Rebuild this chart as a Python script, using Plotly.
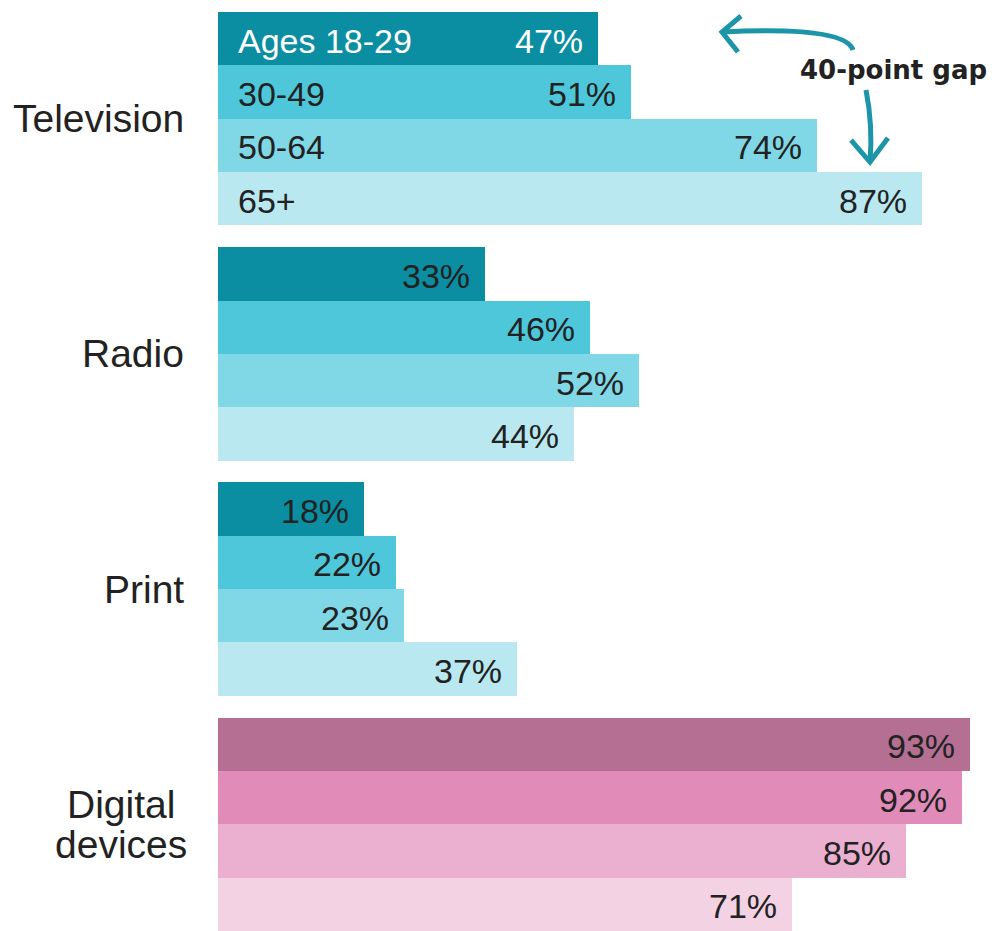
import plotly.graph_objects as go

# data
media = ["Television", "Radio", "Print", "Digital devices"]
ages = ["Ages 18-29", "30-49", "50-64", "65+"]
television = [47, 51, 74, 87]
radio = [33, 46, 52, 44]
print_ = [18, 22, 23, 37]
digital = [93, 92, 85, 71]
values = [television, radio, print_, digital]

TEAL = ["#0B8EA2", "#4EC7DA", "#80D7E6", "#B9E8F0"]
PINK = ["#B46F93", "#E08BB8", "#EBB0D0", "#F3D2E4"]
ARROW = "#1C95A8"
TXT = "#222222"
FONT = "Liberation Sans"

GAP = 0.41  # space between groups, in bar heights
X_PX = 8.09  # pixels per percentage point
BODY = 8  # page margin the browser puts round the plot div
LEFT = 218
TOP = 12
BAR_PX = 53.3

fig = go.Figure()
ys_all = []
for g, vals in enumerate(values):
    ys = [g * (4 + GAP) + j for j in range(4)]
    ys_all.append(ys)
    colors = PINK if g == 3 else TEAL
    fig.add_trace(go.Bar(
        x=vals, y=ys, orientation="h", width=1.0,
        marker=dict(color=colors, line=dict(width=0)),
        hoverinfo="skip", showlegend=False,
    ))

annotations = []
for g, (vals, ys) in enumerate(zip(values, ys_all)):
    for j, (v, y) in enumerate(zip(vals, ys)):
        white = g == 0 and j == 0
        annotations.append(dict(
            x=v, y=y, text=f"{v}%", showarrow=False, xanchor="right",
            xshift=-13, yshift=-2,
            font=dict(family=FONT, size=34, color="white" if white else TXT),
        ))
    # group label
    mid = (ys[0] + ys[-1]) / 2
    words = media[g].split(" ")
    if len(words) == 1:
        annotations.append(dict(
            x=0, y=mid, text=media[g], showarrow=False, xanchor="right",
            xshift=-32, font=dict(family=FONT, size=39, color=TXT),
        ))
    else:
        for k, w in enumerate(words):
            annotations.append(dict(
                x=0, y=mid, text=w, showarrow=False, xanchor="center",
                xshift=-97, yshift=20 - 40 * k,
                font=dict(family=FONT, size=39, color=TXT),
            ))

# age labels inside the television bars
for j, (lab, y) in enumerate(zip(ages, ys_all[0])):
    annotations.append(dict(
        x=0, y=y, text=lab, showarrow=False, xanchor="left", xshift=18, yshift=-2,
        font=dict(family=FONT, size=34, color="white" if j == 0 else TXT),
    ))


def px(xp, yp):
    """page pixel -> data coords"""
    return (xp - LEFT) / X_PX, (yp - TOP) / BAR_PX - 0.5


def path(points, curve=False):
    pts = [px(*p) for p in points]
    if curve:
        (x0, y0), (cx, cy), (x1, y1) = pts
        return f"M {x0} {y0} Q {cx} {cy} {x1} {y1}"
    return "M " + " L ".join(f"{a} {b}" for a, b in pts)


line = dict(color=ARROW, width=5)
shapes = [
    dict(type="path", xref="x", yref="y", line=line,
         path=path([(853, 50), (845, 26), (722, 32)], curve=True)),
    dict(type="path", xref="x", yref="y", line=line,
         path=path([(741, 16), (722, 32), (738, 52)])),
    dict(type="path", xref="x", yref="y", line=line,
         path=path([(866, 90), (873, 125), (870, 162)], curve=True)),
    dict(type="path", xref="x", yref="y", line=line,
         path=path([(851, 140), (870, 162), (888, 138)])),
]

annotations.append(dict(
    x=px(893, 0)[0], y=px(0, 70)[1], text="<b>40-point gap</b>", showarrow=False,
    font=dict(family="DejaVu Sans", size=26, color=TXT), bgcolor="white",
))

total = 4 * 4 + 3 * GAP
fig.update_layout(
    width=998 - BODY, height=931 - BODY,
    margin=dict(l=LEFT - BODY, r=0, t=TOP - BODY, b=0),
    plot_bgcolor="white", paper_bgcolor="white",
    bargap=0,
    xaxis=dict(range=[0, (998 - LEFT) / X_PX], visible=False, fixedrange=True),
    yaxis=dict(range=[total - 0.5, -0.5], visible=False, fixedrange=True),
    annotations=annotations, shapes=shapes,
)

fig.write_html("out.html")
